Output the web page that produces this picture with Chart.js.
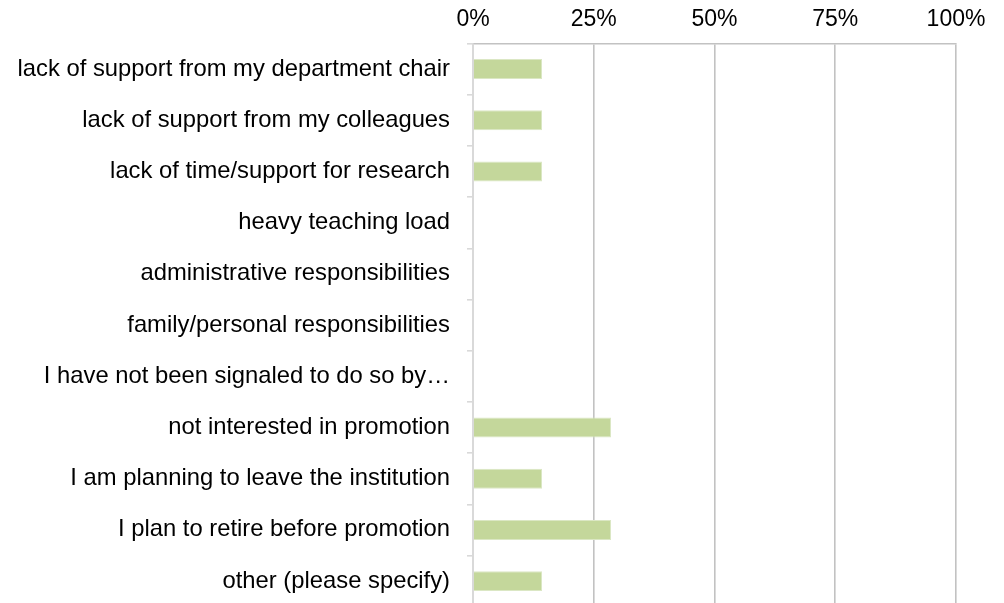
<!DOCTYPE html>
<html>
<head>
<meta charset="utf-8">
<script src="https://cdn.jsdelivr.net/npm/chart.js@4/dist/chart.umd.min.js"></script>
<style>
    html, body { margin: 0; padding: 0; overflow: hidden; background: #fff; }
    #wrap { width: 1004px; height: 638px; position: relative; }
</style>
</head>
<body>
<div id="wrap"><canvas id="reasonsChart"></canvas></div>
<script>
// Reasons (category labels, top to bottom)
const reasons = [
    'lack of support from my department chair',
    'lack of support from my colleagues',
    'lack of time/support for research',
    'heavy teaching load',
    'administrative responsibilities',
    'family/personal responsibilities',
    'I have not been signaled to do so by…',
    'not interested in promotion',
    'I am planning to leave the institution',
    'I plan to retire before promotion',
    'other (please specify)'
];
// Share of respondents, in percent
const shares = [14.29, 14.29, 14.29, 0, 0, 0, 0, 28.57, 14.29, 28.57, 14.29];
// Tick values of the percent axis
const percentTicks = [0, 25, 50, 75, 100];

const ctx = document.getElementById('reasonsChart').getContext('2d');
const fontFamily = "'Liberation Sans', Arial, sans-serif";

// Note: the y labels padding pushes the chart area up from the bottom,
// so the canvas is a bit taller than the window and the overflow is hidden
new Chart(ctx, {
    type: 'bar',
    data: {
        labels: reasons,
        datasets: [{
            data: shares,
            backgroundColor: '#c4d79b',
            borderColor: '#dbe7c4',
            borderWidth: 1,
            barPercentage: 0.39,
            categoryPercentage: 1
        }]
    },
    options: {
        indexAxis: 'y',
        responsive: true,
        maintainAspectRatio: false,
        animation: false,
        layout: { padding: { left: 0, right: 48, top: 0, bottom: 0 } },
        plugins: {
            legend: { display: false },
            tooltip: { enabled: false }
        },
        scales: {
            x: {
                position: 'top',
                min: 0,
                max: 100,
                afterBuildTicks: (scale) => {
                    scale.ticks = percentTicks.map(v => ({ value: v }));
                },
                afterFit: (scale) => { scale.height = 43.5; },
                grid: { color: '#c2c2c2', lineWidth: 1.6, drawTicks: false },
                border: { color: '#c2c2c2', width: 1.6 },
                ticks: {
                    color: '#000',
                    font: { family: fontFamily, size: 23 },
                    padding: 10,
                    maxRotation: 0,
                    callback: (value) => value + '%'
                }
            },
            y: {
                afterFit: (scale) => { scale.width = 473; },
                grid: { drawOnChartArea: false, drawTicks: true, tickLength: 6, color: '#d9d9d9', lineWidth: 1.6 },
                border: { color: '#d9d9d9', width: 1.6 },
                ticks: {
                    color: '#000',
                    font: { family: fontFamily, size: 23.8 },
                    padding: 17,
                    autoSkip: false
                }
            }
        }
    }
});
</script>
</body>
</html>
